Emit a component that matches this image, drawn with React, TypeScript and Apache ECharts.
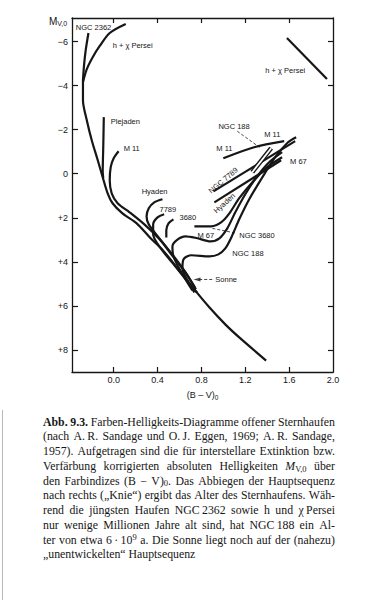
import React, { useEffect, useRef } from "react";
import * as echarts from "echarts";

// ---- axis ticks ----
const xTicks = [0.0, 0.4, 0.8, 1.2, 1.6, 2.0];
const yTicks = [-6, -4, -2, 0, 2, 4, 6, 8];
const yTickLabels: Record<string, string> = {
  "-6": "\u22126", "-4": "\u22124", "-2": "\u22122", "0": "0",
  "2": "+2", "4": "+4", "6": "+6", "8": "+8",
};

// ---- cluster sequences: [ (B-V)0 , Mv0 ] ----
const zamsMainSequence = [
  [-0.28, -4.25], [-0.28, -3.34], [-0.245, -2.43], [-0.2, -1.52], [-0.145, -0.61],
  [-0.1, 0.16], [-0.055, 0.89], [-0.01, 1.34], [0.08, 1.8], [0.21, 2.25],
  [0.33, 2.89], [0.45, 3.48], [0.575, 4.25], [0.72, 5.16], [0.87, 6.05],
  [1.02, 6.85], [1.145, 7.43], [1.39, 8.48],
];
const ngc2362Top = [[-0.23, -6.39], [-0.255, -5.61], [-0.27, -4.93], [-0.28, -4.25]];
const hChiPerseiTop = [[0.11, -6.8], [-0.036, -6.39], [-0.127, -5.8], [-0.19, -5.3], [-0.245, -4.75], [-0.28, -4.16]];
const hChiPerseiSupergiants = [[1.58, -6.16], [1.945, -4.3]];
const plejadenTurnoff = [[-0.09, -2.57], [-0.095, -1.2], [-0.1, -0.1], [-0.095, 0.2]];
const m11Lower = [
  [0.045, -1.02], [0.0, -0.7], [-0.027, -0.3], [-0.036, 0.3], [-0.018, 0.89],
  [0.036, 1.34], [0.145, 1.75], [0.28, 2.3], [0.41, 2.93], [0.52, 3.57], [0.63, 4.3], [0.74, 5.16],
];
const m11Giants = [[1.0, -0.7], [1.28, -1.2], [1.555, -1.48]];
const hyadenLower = [
  [0.445, 1.16], [0.37, 1.3], [0.32, 1.57], [0.3, 1.93], [0.32, 2.3],
  [0.43, 3.02], [0.54, 3.75], [0.655, 4.48], [0.75, 5.25],
];
const hyadenGiants = [[0.918, 1.3], [1.527, -0.61]];
const ngc7789Lower = [
  [0.46, 1.84], [0.4, 1.98], [0.36, 2.3], [0.36, 2.75], [0.43, 3.39],
  [0.54, 4.07], [0.65, 4.75], [0.76, 5.39],
];
const ngc7789Giants = [[0.91, 0.8], [1.655, -1.48]];
const ngc3680Turnoff = [[0.545, 2.07], [0.5, 2.25], [0.48, 2.57], [0.48, 2.89]];
const ngc3680Branch = [
  [0.718, 5.3], [0.618, 4.48], [0.545, 3.75], [0.536, 3.3], [0.573, 3.02],
  [0.655, 2.84], [0.764, 2.93], [0.882, 3.07], [0.964, 2.93], [1.036, 2.48],
  [1.109, 1.75], [1.2, 0.93], [1.31, 0.11], [1.418, -0.52], [1.536, -0.98],
];
const m67Branch = [
  [0.736, 2.39], [0.89, 2.39], [0.982, 2.2], [1.055, 1.8], [1.145, 1.11],
  [1.273, 0.34], [1.4, -0.3], [1.536, -0.75],
];
const ngc188Branch = [
  [0.736, 5.39], [0.673, 4.84], [0.627, 4.3], [0.636, 3.89], [0.71, 3.7],
  [0.873, 3.75], [0.955, 3.66], [1.018, 3.39], [1.073, 2.89], [1.145, 2.07],
  [1.236, 1.16], [1.345, 0.25], [1.473, -0.75], [1.59, -1.43], [1.664, -1.66],
];
const ngc188Band = [[1.264, -0.07], [1.436, -1.16]];

// ---- pointers ----
const sonnePointer = [[0.78, 4.8], [0.9, 4.8]];
const sonneArrow = [[0.76, 4.8]];
const ngc188Pointer = [[1.127, -1.93], [1.33, -1.2]];
const ngc3680Pointer = [[0.9, 2.48], [1.118, 2.7]];

// ---- annotations: text, x, y, rotation (deg) ----
const annotations: [string, number, number, number][] = [
  ["NGC 2362", -0.345, -6.66, 0],
  ["h + \u03c7 Persei", -0.009, -5.84, 0],
  ["h + \u03c7 Persei", 1.382, -4.7, 0],
  ["Plejaden", -0.027, -2.39, 0],
  ["M 11", 0.091, -1.16, 0],
  ["Hyaden", 0.255, 0.8, 0],
  ["7789", 0.418, 1.61, 0],
  ["3680", 0.6, 1.98, 0],
  ["M 67", 0.764, 2.8, 0],
  ["NGC 3680", 1.145, 2.8, 0],
  ["NGC 188", 1.082, 3.61, 0],
  ["Sonne", 0.927, 4.8, 0],
  ["NGC 188", 0.955, -2.16, 0],
  ["M 11", 1.373, -1.8, 0],
  ["M 11", 0.936, -1.16, 0],
  ["M 67", 1.609, -0.57, 0],
  ["NGC 7789", 1.0, 0.3, 40],
  ["Hyaden", 1.01, 1.34, 42],
];

const captionLines = [
  "!Abb. !9.3. Farben-Helligkeits-Diagramme offener Sternhaufen",
  "(nach A.\u2009R. Sandage und O.\u2009J. Eggen, 1969; A.\u2009R. Sandage,",
  "1957). Aufgetragen sind die f\u00fcr interstellare Extinktion bzw.",
  "Verf\u00e4rbung korrigierten absoluten Helligkeiten @MV0 \u00fcber",
  "den Farbindizes (B \u2212 @BV0. Das Abbiegen der Hauptsequenz",
  "nach rechts (\u201eKnie\u201c) ergibt das Alter des Sternhaufens. W\u00e4h-",
  "rend die j\u00fcngsten Haufen NGC\u20092362 sowie h und \u03c7\u2009Persei",
  "nur wenige Millionen Jahre alt sind, hat NGC\u2009188 ein Al-",
  "ter von etwa @SIXE9 a. Die Sonne liegt noch auf der (nahezu)",
];
const captionLast = "\u201eunentwickelten\u201c Hauptsequenz";

const INK = "#161616";

const subStyle: React.CSSProperties = {
  fontSize: "0.72em",
  position: "relative",
  top: "0.22em",
  lineHeight: 0,
};
const supStyle: React.CSSProperties = {
  fontSize: "0.72em",
  position: "relative",
  top: "-0.4em",
  lineHeight: 0,
};

function renderWord(w: string, i: number) {
  if (w.startsWith("!")) return <b key={i}>{w.slice(1)}</b>;
  if (w === "@MV0")
    return (
      <span key={i}>
        <i>M</i>
        <span style={subStyle}>V,0</span>
      </span>
    );
  if (w === "@BV0.")
    return (
      <span key={i}>
        V)<span style={subStyle}>0</span>.
      </span>
    );
  if (w === "@SIXE9")
    return (
      <span key={i}>
        6{"\u2009\u00b7\u2009"}10<span style={supStyle}>9</span>
      </span>
    );
  return <span key={i}>{w}</span>;
}

export default function App() {
  const ref = useRef<HTMLDivElement>(null);

  useEffect(() => {
    if (!ref.current) return;
    const chart = echarts.init(ref.current, null, { renderer: "svg" });

    const curve = (data: number[][], smooth = 0.35, width = 2.2, z = 3) => ({
      type: "line",
      data,
      showSymbol: false,
      symbol: "none",
      smooth,
      silent: true,
      z,
      lineStyle: { color: INK, width },
    });
    const dashed = (data: number[][]) => ({
      type: "line",
      data,
      showSymbol: false,
      symbol: "none",
      silent: true,
      z: 2,
      lineStyle: { color: INK, width: 0.8, type: [3, 2] },
    });

    const xRange = { min: -0.38, max: 2.0 };
    const yRange = { min: -7.07, max: 9.0 };
    const axisLine = { show: true, onZero: false, lineStyle: { color: INK, width: 1.3 } };
    const tickStyle = { show: true, inside: true, length: 5, lineStyle: { color: INK, width: 1.2 } };

    const axisTitle = {
      type: "text",
      left: 49,
      top: 16,
      silent: true,
      style: {
        text: "{m|M}{s|V,0}",
        rich: {
          m: { fontSize: 10, fontFamily: "Liberation Sans", fill: INK, lineHeight: 12 },
          s: { fontSize: 7, fontFamily: "Liberation Sans", fill: INK, verticalAlign: "bottom", lineHeight: 12, padding: [4, 0, 0, 0] },
        },
      },
    };

    chart.setOption({
      animation: false,
      backgroundColor: "#ffffff",
      grid: { left: 72, top: 18, width: 261, height: 354, containLabel: false },
      xAxis: [
        {
          type: "value",
          position: "bottom",
          ...xRange,
          axisLine,
          axisTick: { ...tickStyle, customValues: xTicks.slice(0, 5) },
          splitLine: { show: false },
          axisLabel: {
            customValues: xTicks,
            formatter: (v: number) => v.toFixed(1),
            color: INK,
            fontSize: 9,
            fontFamily: "Liberation Sans",
            margin: 3,
          },
          name: "{a|(B \u2013 V)}{b|0}",
          nameLocation: "middle",
          nameGap: 17,
          nameTextStyle: {
            rich: {
              a: { fontSize: 9, fontFamily: "Liberation Sans", color: INK, lineHeight: 12 },
              b: { fontSize: 6.5, fontFamily: "Liberation Sans", color: INK, verticalAlign: "bottom", lineHeight: 12, padding: [5, 0, 0, 0] },
            },
          },
        },
        {
          type: "value",
          position: "top",
          ...xRange,
          axisLine,
          axisTick: { ...tickStyle, customValues: xTicks.slice(0, 5) },
          splitLine: { show: false },
          axisLabel: { show: false },
        },
      ],
      yAxis: [
        {
          type: "value",
          position: "left",
          inverse: true,
          ...yRange,
          axisLine,
          axisTick: { ...tickStyle, length: 6, customValues: yTicks },
          splitLine: { show: false },
          axisLabel: {
            customValues: yTicks,
            formatter: (v: number) => yTickLabels[String(v)] ?? String(v),
            color: INK,
            fontSize: 9,
            fontFamily: "Liberation Sans",
            margin: 4,
          },
        },
        {
          type: "value",
          position: "right",
          inverse: true,
          ...yRange,
          axisLine,
          axisTick: { ...tickStyle, customValues: yTicks },
          splitLine: { show: false },
          axisLabel: { show: false },
        },
      ],
      graphic: [axisTitle],
      series: [
        curve(zamsMainSequence, 0.3),
        curve(ngc2362Top, 0.3),
        curve(hChiPerseiTop, 0.3),
        curve(hChiPerseiSupergiants, 0),
        curve(plejadenTurnoff, 0.2),
        curve(m11Lower, 0.3),
        curve(m11Giants, 0.3),
        curve(hyadenLower, 0.3),
        curve(hyadenGiants, 0),
        curve(ngc7789Lower, 0.3),
        curve(ngc7789Giants, 0),
        curve(ngc3680Turnoff, 0.3),
        curve(ngc3680Branch, 0.3),
        curve(m67Branch, 0.3),
        curve(ngc188Branch, 0.3),
        curve(ngc188Band, 0, 4.6, 5),
        {
          type: "line",
          data: ngc188Band,
          showSymbol: false,
          symbol: "none",
          silent: true,
          z: 6,
          lineStyle: { color: "#ffffff", width: 1.8 },
        },
        dashed(sonnePointer),
        dashed(ngc188Pointer),
        dashed(ngc3680Pointer),
        {
          type: "scatter",
          data: sonneArrow,
          symbol: "triangle",
          symbolSize: [4, 7],
          symbolRotate: 90,
          silent: true,
          itemStyle: { color: INK },
        },
      ],
    });

    // annotation texts placed through the chart's own coordinate system
    const labelGraphics = annotations.map(([t, x, y, r]) => {
      const [px, py] = chart.convertToPixel({ gridIndex: 0 }, [x, y]) as number[];
      return {
        type: "text",
        x: px,
        y: py,
        rotation: (r * Math.PI) / 180,
        silent: true,
        z: 10,
        style: {
          text: t,
          fill: INK,
          fontSize: 7.5,
          fontFamily: "Liberation Sans",
          align: r ? "center" : "left",
          verticalAlign: "middle",
        },
      };
    });
    chart.setOption({ graphic: [axisTitle, ...labelGraphics] }, { replaceMerge: ["graphic"] });

    return () => chart.dispose();
  }, []);

  const capStyle: React.CSSProperties = {
    position: "absolute",
    left: 43,
    width: 292,
    height: 14.75,
    lineHeight: "14.75px",
    fontSize: 11.8,
    fontFamily: "'Liberation Serif', 'DejaVu Serif', serif",
    color: INK,
    whiteSpace: "nowrap",
  };

  return (
    <div
      style={{
        position: "absolute",
        left: 0,
        top: 0,
        width: 371,
        height: 600,
        background: "#ffffff",
        overflow: "hidden",
      }}
    >
      <div style={{ position: "absolute", left: 2, top: 0, width: 1, height: 600, background: "#b8b8b8" }} />
      <div ref={ref} style={{ position: "absolute", left: 0, top: 0, width: 371, height: 410 }} />
      {captionLines.map((line, li) => (
        <div
          key={li}
          style={{
            ...capStyle,
            top: 414.6 + li * 14.75,
            display: "flex",
            justifyContent: "space-between",
          }}
        >
          {line.split(" ").map((w, i) => renderWord(w, i))}
        </div>
      ))}
      <div style={{ ...capStyle, top: 414.6 + captionLines.length * 14.75 }}>{captionLast}</div>
    </div>
  );
}
